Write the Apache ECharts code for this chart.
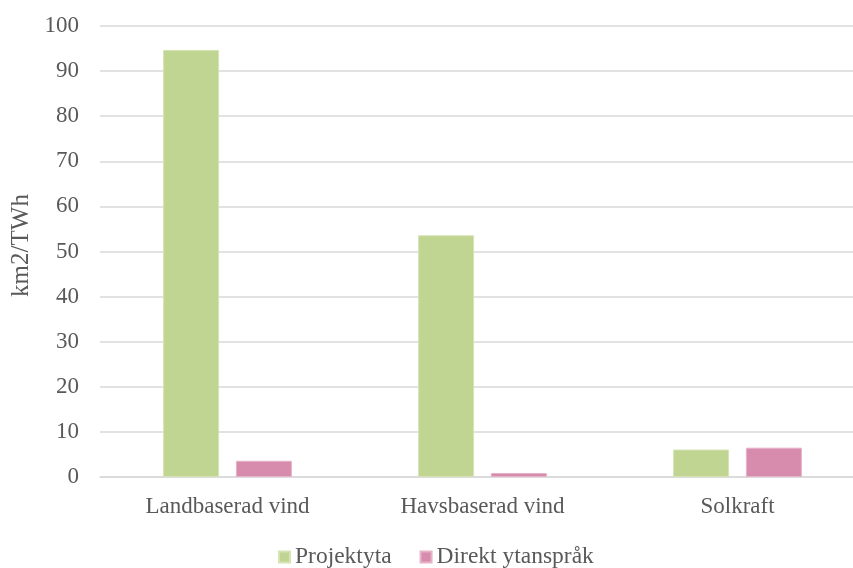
<!DOCTYPE html>
<html><head><meta charset="utf-8">
<script src="https://cdn.jsdelivr.net/npm/echarts@6/dist/echarts.min.js"></script>
<style>html,body{margin:0;padding:0;background:#fff}#c{width:853px;height:568px}</style>
</head><body><div id="c"></div>
<script>
var categories = ['Landbaserad vind', 'Havsbaserad vind', 'Solkraft'];
var projektyta = [94.7, 53.6, 6.1];
var direktYtansprak = [3.6, 0.9, 6.5];
var yTicks = [0, 10, 20, 30, 40, 50, 60, 70, 80, 90, 100];

var font = 'Liberation Serif';
var chart = echarts.init(document.getElementById('c'), null, {renderer: 'canvas'});
chart.setOption({
  animation: false,
  textStyle: {fontFamily: font},
  grid: {left: 100, width: 765, top: 26, bottom: 91, containLabel: false, outerBoundsMode: 'none'},
  legend: {
    top: 540, left: 273, itemWidth: 11, itemHeight: 11, itemGap: 28,
    icon: 'rect',
    textStyle: {fontFamily: font, fontSize: 23.5, color: '#595959'},
    data: ['Projektyta', 'Direkt ytanspråk']
  },
  xAxis: {
    type: 'category', data: categories,
    axisLine: {lineStyle: {color: '#d9d9d9', width: 1.5}},
    axisTick: {show: false},
    axisLabel: {fontFamily: font, fontSize: 23, color: '#595959', margin: 18}
  },
  yAxis: {
    type: 'value', min: yTicks[0], max: yTicks[yTicks.length - 1], interval: 10,
    name: 'km2/TWh', nameLocation: 'middle', nameGap: 64, nameRotate: 90,
    nameTextStyle: {fontFamily: font, fontSize: 25, color: '#595959', padding: [0, 0, 0, 12]},
    axisLine: {show: false}, axisTick: {show: false},
    axisLabel: {fontFamily: font, fontSize: 23, color: '#595959', margin: 21},
    splitLine: {lineStyle: {color: '#d9d9d9', width: 1.5}}
  },
  series: [
    {name: 'Projektyta', type: 'bar', data: projektyta, barWidth: 56, barGap: '30%',
     itemStyle: {color: '#c1d592', borderColor: '#d6e4b5', borderWidth: 1}},
    {name: 'Direkt ytanspråk', type: 'bar', data: direktYtansprak, barWidth: 56,
     itemStyle: {color: '#d78bad', borderColor: '#e6b3c9', borderWidth: 1}}
  ]
});
</script></body></html>
